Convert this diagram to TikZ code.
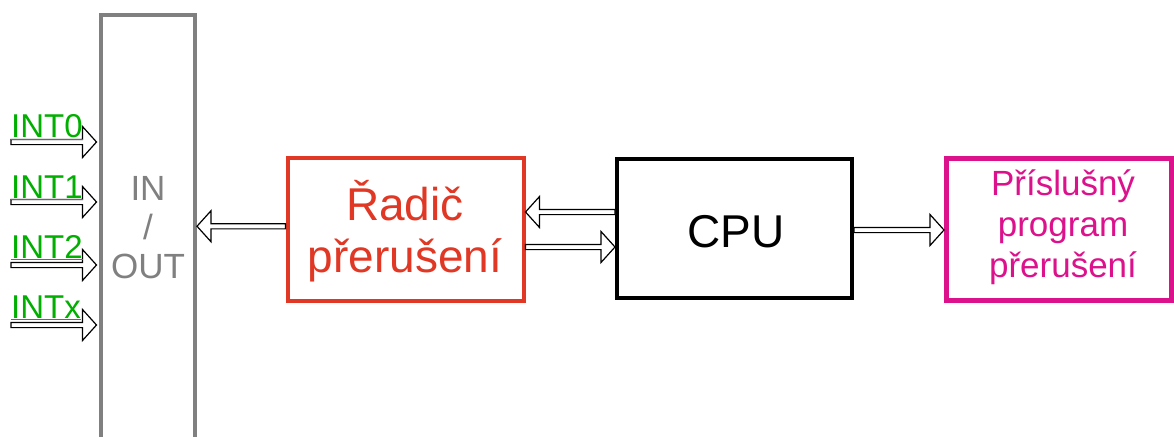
\documentclass[tikz,border=0pt]{standalone}
\usepackage{fontspec}
\setmainfont{Liberation Sans}
\usetikzlibrary{calc}
\definecolor{intgreen}{RGB}{0,175,0}
\definecolor{radred}{RGB}{224,56,36}
\definecolor{progmag}{RGB}{220,18,140}
\definecolor{iogray}{RGB}{128,128,128}
\tikzset{
  harrow/.style={draw=black, fill=white, line width=1.2pt, line join=miter,
    to path={let \p1=(\tikztostart), \p2=(\tikztotarget), \n1={ifthenelse(\x2>\x1,1,-1)} in
      (\x1,\y1+2.6pt) -- (\x2-\n1*14pt,\y1+2.6pt) -- (\x2-\n1*14pt,\y1+15.5pt) -- (\x2,\y1)
      -- (\x2-\n1*14pt,\y1-15.5pt) -- (\x2-\n1*14pt,\y1-2.6pt) -- (\x1,\y1-2.6pt) -- cycle}},
  blockbox/.style={draw, rectangle, line width=4pt, fill=white, inner sep=0pt},
  inttext/.style={text=intgreen, font=\fontsize{33}{36}\selectfont, anchor=base west, inner sep=0pt},
}
\begin{document}
\begin{tikzpicture}[x=1pt,y=-1pt]
\clip (0,0) rectangle (1174,436);
\fill[white] (0,0) rectangle (1174,436);
% IN/OUT box
\node[blockbox, draw=iogray, minimum width=94pt, minimum height=445pt] (io) at (148,237.5) {};
\node[text=iogray, font=\fontsize{35}{39}\selectfont, align=center, anchor=base, inner sep=0pt] (iotext) at (148,278) {IN\\/\\OUT};
% main blocks
\node[blockbox, draw=radred, minimum width=236pt, minimum height=142.5pt] (rad) at (405.5,229.25) {};
\node[text=radred, font=\fontsize{46}{52}\selectfont, align=center, anchor=base, inner sep=0pt] (radtext) at (405,272) {Řadič\\přerušení};
\node[blockbox, draw=black, minimum width=235pt, minimum height=139pt] (cpu) at (734.5,228.5) {};
\node[text=black, font=\fontsize{46}{52}\selectfont, anchor=base, inner sep=0pt] (cputext) at (736,247) {CPU};
\node[blockbox, draw=progmag, line width=5pt, minimum width=224.5pt, minimum height=141.5pt] (prog) at (1058.75,229.25) {};
\node[text=progmag, font=\fontsize{35}{41}\selectfont, align=center, anchor=base, inner sep=0pt] (progtext) at (1063,277) {Příslušný\\program\\přerušení};
% INT inputs
\coordinate (i0) at (11,142);
\coordinate (i1) at (11,202);
\coordinate (i2) at (11,265);
\coordinate (ix) at (11,325);
\draw[harrow] (i0) to ($(io.west |- i0)+(-2.5,0)$);
\draw[harrow] (i1) to ($(io.west |- i1)+(-2.5,0)$);
\draw[harrow] (i2) to ($(io.west |- i2)+(-2.5,0)$);
\draw[harrow] (ix) to ($(io.west |- ix)+(-2.5,0)$);
\node[inttext] (l0) at (11,137) {\underline{INT0}};
\node[inttext] (l1) at (11,198) {\underline{INT1}};
\node[inttext] (l2) at (11,258) {\underline{INT2}};
\node[inttext] (lx) at (11,318) {\underline{INTx}};
% connector ports
\coordinate (radout) at ($(rad.west)+(0,-3)$);
\coordinate (cpuback) at ($(cpu.west)+(0,-16.5)$);
\coordinate (radfwd) at ($(rad.east)+(0,17.75)$);
\coordinate (cpuout) at ($(cpu.east)+(0,1.5)$);
% connectors
\draw[harrow] (radout) to (io.east |- radout);
\draw[harrow] (cpuback) to (rad.east |- cpuback);
\draw[harrow] (radfwd) to (cpu.west |- radfwd);
\draw[harrow] (cpuout) to (prog.west |- cpuout);
\end{tikzpicture}
\end{document}
